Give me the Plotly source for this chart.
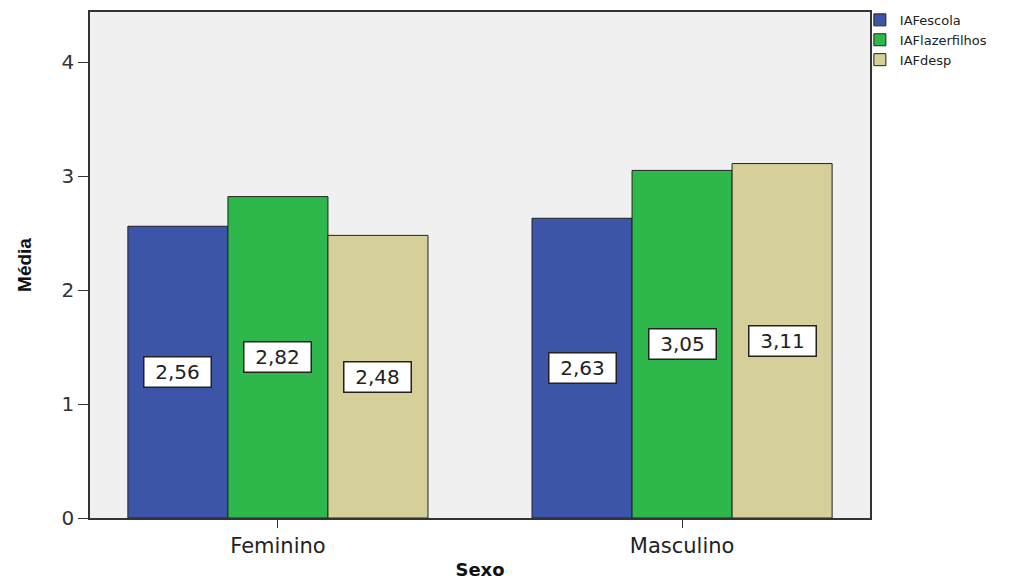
import plotly.graph_objects as go

categories = ["Feminino", "Masculino"]
series_names = ["IAFescola", "IAFlazerfilhos", "IAFdesp"]
iaf_escola = [2.56, 2.63]
iaf_lazerfilhos = [2.82, 3.05]
iaf_desp = [2.48, 3.11]
series_values = [iaf_escola, iaf_lazerfilhos, iaf_desp]
colors = ["#3d55a8", "#2eb84b", "#d5cf99"]
y_ticks = [0, 1, 2, 3, 4]

bar_w = 0.2475
xpos = list(range(len(categories)))
FONT = "DejaVu Sans, Liberation Sans, Arial"

fig = go.Figure()
for i, (name, vals, col) in enumerate(zip(series_names, series_values, colors)):
    fig.add_trace(go.Bar(
        x=xpos, y=vals, name=name, width=bar_w,
        offset=(i - 1.5) * bar_w,
        marker=dict(color=col, line=dict(color="#222222", width=1)),
    ))
    for xc, v in zip(xpos, vals):
        fig.add_annotation(
            x=xc + (i - 1) * bar_w, y=v / 2, xref="x", yref="y",
            text=f"{v:.2f}".replace(".", ","), showarrow=False,
            font=dict(family=FONT, size=20, color="#222222"),
            width=64, height=27,
            bgcolor="white", bordercolor="#222222", borderwidth=1.5, borderpad=1,
        )

fig.update_layout(
    width=1016, height=572,
    margin=dict(l=82, r=154, t=4, b=62, autoexpand=False),
    paper_bgcolor="white", plot_bgcolor="#f0f0f0",
    barmode="overlay",
    showlegend=True,
    legend=dict(x=0.987, y=1.014, xanchor="left", yanchor="top",
                font=dict(family=FONT, size=13, color="#222222"),
                tracegroupgap=0, itemwidth=30, bgcolor="rgba(0,0,0,0)"),
    xaxis=dict(
        range=[-0.465, 1.465], tickmode="array", tickvals=xpos, ticktext=categories,
        ticks="outside", ticklen=8, tickcolor="#333333", automargin=False,
        showline=True, linecolor="#333333", linewidth=1.5, mirror=True,
        showgrid=False, zeroline=False,
        tickfont=dict(family=FONT, size=21, color="#222222"),
        title=dict(text="<b>Sexo</b>", font=dict(family=FONT, size=18, color="#111111"), standoff=7),
    ),
    yaxis=dict(
        range=[0, 4.44], tickmode="array", tickvals=y_ticks,
        ticks="outside", ticklen=10, tickcolor="#333333", automargin=False,
        showline=True, linecolor="#333333", linewidth=1.5, mirror=True,
        showgrid=False, zeroline=False,
        tickfont=dict(family=FONT, size=20, color="#333333"),
        title=dict(text="<b>Média</b>", font=dict(family="Liberation Sans Narrow, Arial Narrow, Liberation Sans", size=19, color="#111111"), standoff=25),
    ),
)

fig.write_html("out.html")
